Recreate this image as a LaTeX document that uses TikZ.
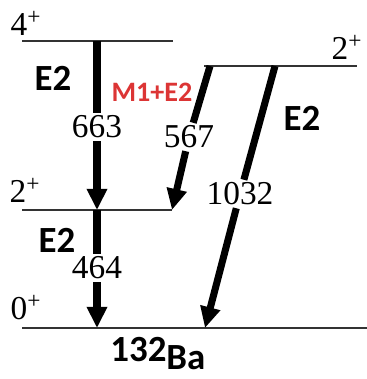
\documentclass[tikz,border=0pt]{standalone}
\usepackage{fontspec}
\setmainfont{Liberation Serif}
\newfontfamily\tagfont{Carlito}
\definecolor{Mixcol}{HTML}{DC3535}
\definecolor{Levcol}{HTML}{333333}
\usetikzlibrary{arrows.meta, positioning}
\tikzset{
    >={Triangle[width=11pt,length=12pt]},
    level/.style={Levcol, line width=0.9pt},
    gam/.style={line width=4pt},
    energy/.style={font=\fontsize{19}{19}\selectfont, inner sep=1.5pt},
    spin/.style={font=\fontsize{19}{19}\selectfont, inner sep=0pt},
    mult/.style={font=\tagfont\bfseries\fontsize{21}{21}\selectfont, inner sep=0pt}
}

\begin{document}
\begin{tikzpicture}[x=0.02cm, y=-0.02cm]
    \useasboundingbox (0,0) rectangle (367,379);

    % Levels
    \coordinate (l4a) at (22,41);   \coordinate (l4b) at (173,41);
    \coordinate (l2ra) at (204,66); \coordinate (l2rb) at (357,66);
    \coordinate (l2a) at (22,210);  \coordinate (l2b) at (172,210);
    \coordinate (l0a) at (22,328);  \coordinate (l0b) at (367,328);
    \draw[level] (l4a) -- (l4b);
    \draw[level] (l2ra) -- (l2rb);
    \draw[level] (l2a) -- (l2b);
    \draw[level] (l0a) -- (l0b);

    \node[spin] (s4) at (26,23) {4\textsuperscript{+}};
    \node[spin] (s2r) at (347,47) {2\textsuperscript{+}};
    \node[spin] (s2) at (25,190) {2\textsuperscript{+}};
    \node[spin] (s0) at (26,308) {0\textsuperscript{+}};

    % Gamma transitions
    \coordinate (g663a) at (97,41);  \coordinate (g663b) at (97,210);
    \coordinate (g464b) at (97,328);
    \coordinate (g567a) at (210,66); \coordinate (g567b) at (172,210);
    \coordinate (g1032a) at (275,66); \coordinate (g1032b) at (205,328);

    \node[energy] (e663) at (97,127) {663};
    \node[energy] (e464) at (97,268) {464};
    \node[energy] (e567) at (189,137) {567};
    \node[energy] (e1032) at (240,194) {1032};

    \draw[gam] (g663a) -- (e663);
    \draw[gam, ->] (e663) -- (g663b);
    \draw[gam] (g663b) -- (e464);
    \draw[gam, ->] (e464) -- (g464b);
    \draw[gam] (g567a) -- (e567);
    \draw[gam, ->] (e567) -- (g567b);
    \draw[gam] (g1032a) -- (e1032);
    \draw[gam, ->] (e1032) -- (g1032b);

    % Multipolarities
    \node[mult] (m663) at (53,78) {E2};
    \node[mult] (m464) at (57,240) {E2};
    \node[mult] (m1032) at (302,118) {E2};
    \node[mult, Mixcol, font=\tagfont\bfseries\fontsize{16}{16}\selectfont] (m567) at (152,92) {M1+E2};

    \node[mult, anchor=base west] (nuc) at (110,361) {132\raisebox{-5pt}{Ba}};
\end{tikzpicture}
\end{document}
